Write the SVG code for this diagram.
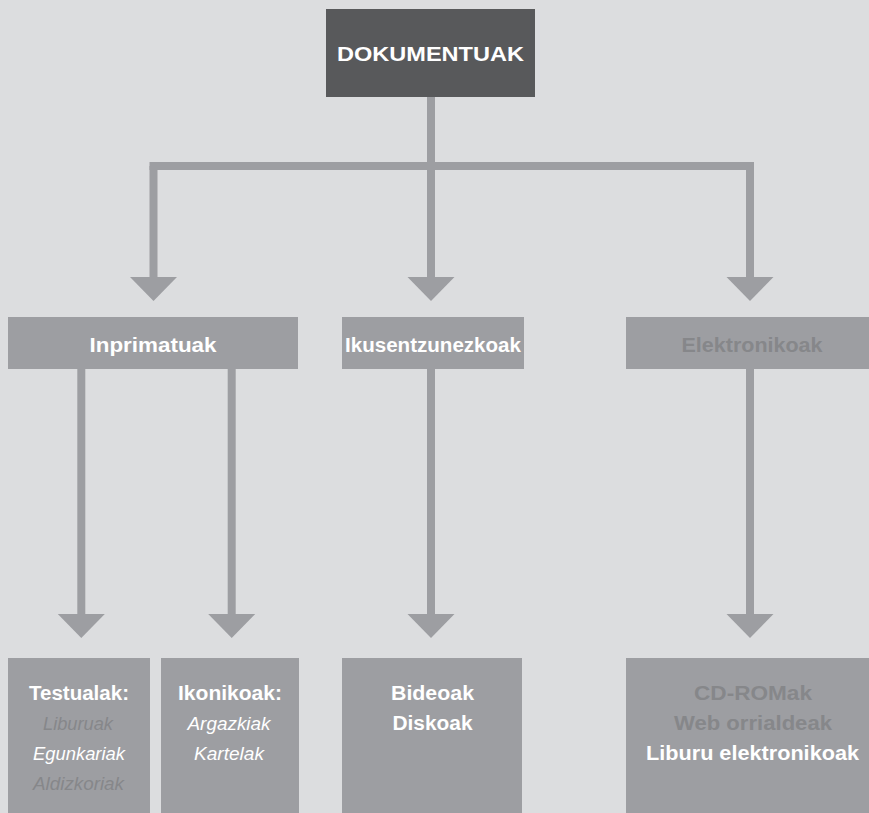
<svg xmlns="http://www.w3.org/2000/svg" width="869" height="813" viewBox="0 0 869 813">
<defs>
<style>
.bg{fill:#dcdddf}
.box{fill:#9d9ea2}
.dark{fill:#58595b}
.conn{stroke:#9d9ea2;stroke-width:8;fill:none}
text{font-family:"Liberation Sans",Arial,sans-serif;text-anchor:middle}
.b{font-weight:bold;font-size:20px;fill:#ffffff}
.bg2{font-weight:bold;font-size:20px;fill:#86878a}
.i{font-style:italic;font-size:18.5px;fill:#ffffff}
.ig{font-style:italic;font-size:18.5px;fill:#86878a}
</style>
<marker id="ah" markerUnits="userSpaceOnUse" viewBox="0 -24 24 48" refX="0" refY="0" markerWidth="24" markerHeight="48" orient="auto">
<path d="M0,-23.5 L24,0 L0,23.5 Z" fill="#9d9ea2"/>
</marker>
</defs>
<rect class="bg" x="0" y="0" width="869" height="813"/>
<g id="connectors">
<path class="conn" d="M149.5,166 H754"/>
<path class="conn" d="M431,97 V166"/>
<path class="conn" d="M153.5,166 V277" marker-end="url(#ah)"/>
<path class="conn" d="M431,166 V277" marker-end="url(#ah)"/>
<path class="conn" d="M750,166 V277" marker-end="url(#ah)"/>
<path class="conn" d="M81.3,369 V614" marker-end="url(#ah)"/>
<path class="conn" d="M231.7,369 V614" marker-end="url(#ah)"/>
<path class="conn" d="M431,369 V614" marker-end="url(#ah)"/>
<path class="conn" d="M750,369 V614" marker-end="url(#ah)"/>
</g>
<g id="dokumentuak">
<rect class="dark" x="326" y="9" width="209" height="88"/>
<text class="b" x="430.5" y="61" textLength="187" lengthAdjust="spacingAndGlyphs">DOKUMENTUAK</text>
</g>
<g id="inprimatuak">
<rect class="box" x="8" y="317" width="290" height="52"/>
<text class="b" x="153" y="351.5" textLength="127" lengthAdjust="spacingAndGlyphs">Inprimatuak</text>
</g>
<g id="ikusentzunezkoak">
<rect class="box" x="342" y="317" width="182" height="52"/>
<text class="b" x="433" y="351.5" textLength="176" lengthAdjust="spacingAndGlyphs">Ikusentzunezkoak</text>
</g>
<g id="elektronikoak">
<rect class="box" x="626" y="317" width="243" height="52"/>
<text class="bg2" x="752" y="351.5" textLength="141" lengthAdjust="spacingAndGlyphs">Elektronikoak</text>
</g>
<g id="testualak">
<rect class="box" x="8" y="658" width="142" height="155"/>
<text class="b" x="79" y="700" textLength="100" lengthAdjust="spacingAndGlyphs">Testualak:</text>
<text class="ig" x="78" y="730" textLength="70" lengthAdjust="spacingAndGlyphs">Liburuak</text>
<text class="i" x="79" y="760" textLength="92" lengthAdjust="spacingAndGlyphs">Egunkariak</text>
<text class="ig" x="78.5" y="790" textLength="91" lengthAdjust="spacingAndGlyphs">Aldizkoriak</text>
</g>
<g id="ikonikoak">
<rect class="box" x="161" y="658" width="138" height="155"/>
<text class="b" x="230" y="700" textLength="104" lengthAdjust="spacingAndGlyphs">Ikonikoak:</text>
<text class="i" x="229" y="730" textLength="83" lengthAdjust="spacingAndGlyphs">Argazkiak</text>
<text class="i" x="229" y="760" textLength="70" lengthAdjust="spacingAndGlyphs">Kartelak</text>
</g>
<g id="bideoak">
<rect class="box" x="342" y="658" width="180" height="155"/>
<text class="b" x="432.5" y="700" textLength="83" lengthAdjust="spacingAndGlyphs">Bideoak</text>
<text class="b" x="432.5" y="730" textLength="80" lengthAdjust="spacingAndGlyphs">Diskoak</text>
</g>
<g id="cdromak">
<rect class="box" x="626" y="658" width="243" height="155"/>
<text class="bg2" x="753" y="700" textLength="118" lengthAdjust="spacingAndGlyphs">CD-ROMak</text>
<text class="bg2" x="753" y="730" textLength="158" lengthAdjust="spacingAndGlyphs">Web orrialdeak</text>
<text class="b" x="752.5" y="760" textLength="213" lengthAdjust="spacingAndGlyphs">Liburu elektronikoak</text>
</g>
</svg>
